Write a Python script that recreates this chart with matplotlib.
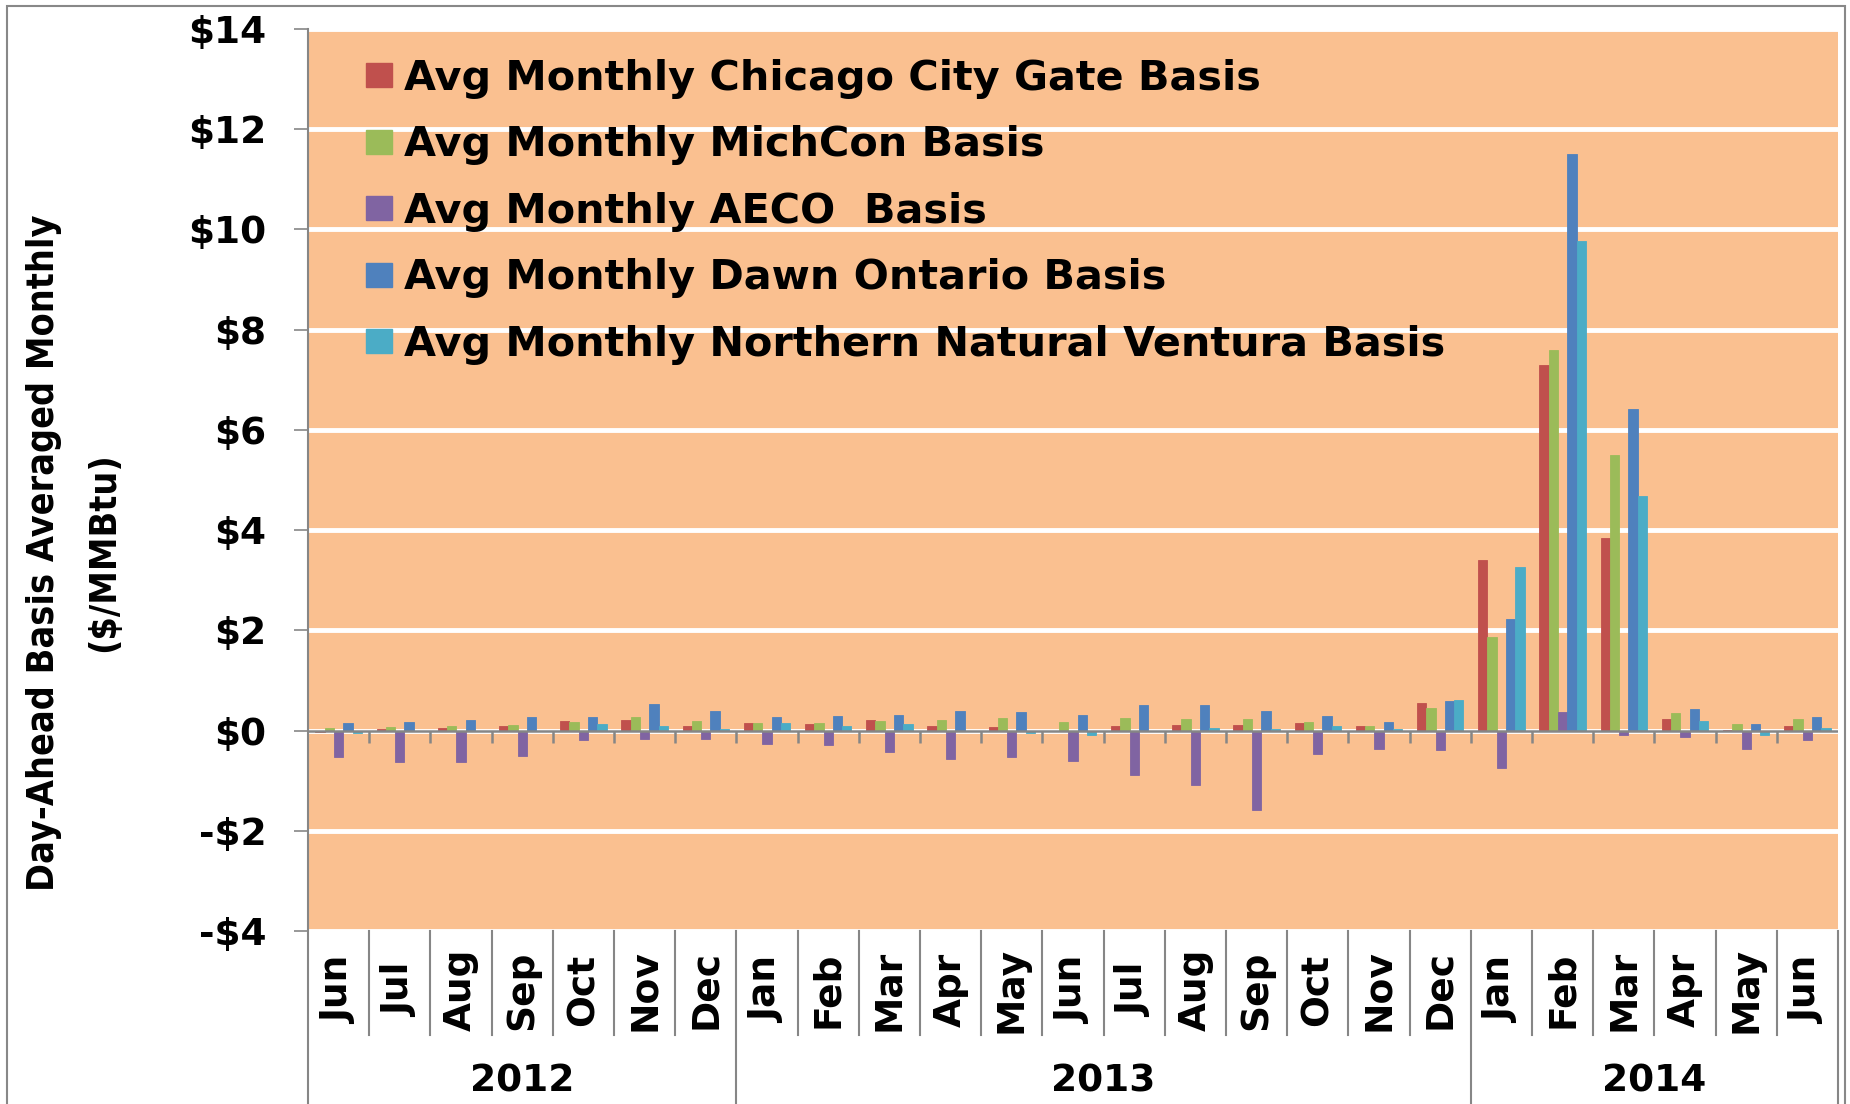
import numpy as np
import matplotlib
matplotlib.use('Agg')
import matplotlib.pyplot as plt
from matplotlib.patches import Patch, Rectangle
from matplotlib.lines import Line2D
import matplotlib.transforms as mtransforms

plt.rcParams['font.family'] = ['DejaVu Sans']
plt.rcParams['font.weight'] = 'bold'

# data
months = ['Jun', 'Jul', 'Aug', 'Sep', 'Oct', 'Nov', 'Dec',
          'Jan', 'Feb', 'Mar', 'Apr', 'May', 'Jun', 'Jul', 'Aug', 'Sep', 'Oct', 'Nov', 'Dec',
          'Jan', 'Feb', 'Mar', 'Apr', 'May', 'Jun']
years = ['2012', '2013', '2014']
year_counts = [7, 12, 6]

chicago = [-0.02, 0.03, 0.05, 0.10, 0.19, 0.21, 0.09, 0.15, 0.13, 0.21, 0.10, 0.07, 0.00,
           0.09, 0.12, 0.11, 0.15, 0.09, 0.55, 3.41, 7.29, 3.85, 0.23, 0.01, 0.10]
michcon = [0.06, 0.07, 0.09, 0.11, 0.17, 0.27, 0.19, 0.15, 0.15, 0.19, 0.21, 0.25, 0.17,
           0.25, 0.23, 0.23, 0.17, 0.09, 0.45, 1.87, 7.60, 5.49, 0.36, 0.14, 0.24]
aeco = [-0.53, -0.63, -0.63, -0.51, -0.19, -0.17, -0.17, -0.27, -0.29, -0.43, -0.57, -0.52, -0.61,
        -0.89, -1.09, -1.59, -0.47, -0.37, -0.38, -0.74, 0.38, -0.08, -0.13, -0.36, -0.18]
dawn = [0.15, 0.18, 0.21, 0.27, 0.28, 0.53, 0.40, 0.27, 0.29, 0.31, 0.39, 0.38, 0.31,
        0.51, 0.51, 0.39, 0.29, 0.17, 0.58, 2.22, 11.51, 6.41, 0.43, 0.14, 0.28]
ventura = [-0.04, 0.00, 0.00, 0.00, 0.13, 0.09, 0.03, 0.15, 0.09, 0.13, 0.00, -0.05, -0.09,
           0.00, 0.06, 0.04, 0.10, 0.04, 0.61, 3.27, 9.77, 4.69, 0.19, -0.08, 0.05]

series = [chicago, michcon, aeco, dawn, ventura]
labels = ['Avg Monthly Chicago City Gate Basis',
          'Avg Monthly MichCon Basis',
          'Avg Monthly AECO  Basis',
          'Avg Monthly Dawn Ontario Basis',
          'Avg Monthly Northern Natural Ventura Basis']
colors = ['#C0504D', '#9BBB59', '#8064A2', '#4F81BD', '#4BACC6']

yticks = [-4, -2, 0, 2, 4, 6, 8, 10, 12, 14]
ytick_labels = ['-\\$4', '-\\$2', '\\$0', '\\$2', '\\$4', '\\$6', '\\$8', '\\$10', '\\$12', '\\$14']

W, H = 1850, 1104
fig = plt.figure(figsize=(W / 100, H / 100), dpi=100)
left, right, top, bottom = 308, 1838, 29, 931
ax = fig.add_axes([left / W, 1 - bottom / H, (right - left) / W, (bottom - top) / H])

x = np.arange(len(months))
bw = 0.152
for i, (vals, lab, c) in enumerate(zip(series, labels, colors)):
    ax.bar(x + (i - 2) * bw, vals, width=bw, color=c, label=lab,
           edgecolor=c, linewidth=0.6, zorder=3)

ax.set_xlim(-0.5, len(months) - 0.5)
ax.set_ylim(-4, 14)
ax.set_facecolor('#FAC090')
ax.set_yticks(yticks)
ax.set_yticklabels(ytick_labels, fontsize=27, fontweight='bold')
ax.tick_params(axis='y', length=10, width=1.2, color='#868686', pad=20)
ax.set_xticks([])
ax.yaxis.grid(True, color='white', linewidth=3.5)
ax.set_axisbelow(True)
for s in ax.spines.values():
    s.set_visible(False)

# zero axis line with tick marks between months
ax.axhline(0, color='#868686', linewidth=1.8, zorder=4)
ax.vlines(x[1:] - 0.5, -0.24, 0, color='#868686', linewidth=1.8, zorder=4)

trans = mtransforms.blended_transform_factory(ax.transData, ax.transAxes)
# left axis line running down past the category labels
ax.add_line(Line2D([0, 0], [-0.2, 1], transform=ax.transAxes, color='#868686',
                   linewidth=1.5, clip_on=False))

# month labels and separators
for i, m in enumerate(months):
    ax.text(i, -0.0654, m, transform=trans, rotation=90, ha='center', va='center',
            fontsize=27, fontweight='bold')
year_edges = np.cumsum(year_counts) - 0.5
for k in range(1, len(months) + 1):
    b = k - 0.5
    ybot = -0.2 if b in year_edges else -0.1153
    ax.add_line(Line2D([b, b], [0, ybot], transform=trans, color='#868686',
                       linewidth=1.5, clip_on=False))

start = 0
for yr, n in zip(years, year_counts):
    ax.text(start + (n - 1) / 2, -0.167, yr, transform=trans, ha='center', va='center',
            fontsize=27, fontweight='bold')
    start += n

# y label
fig.text(44 / W, 1 - 553 / H, 'Day-Ahead Basis Averaged Monthly', rotation=90,
         ha='center', va='center', fontsize=27, fontweight='bold', fontstretch='condensed')
fig.text(104 / W, 1 - 552 / H, '(\\$/MMBtu)', rotation=90,
         ha='center', va='center', fontsize=27, fontweight='bold', fontstretch='condensed')

# legend
handles = [Patch(facecolor=c, edgecolor=c) for c in colors]
ax.legend(handles, labels, loc='upper left', bbox_to_anchor=(366 / W, 1 - 59 / H),
          bbox_transform=fig.transFigure, frameon=False, fontsize=29.8,
          handlelength=0.62, handleheight=0.52, handletextpad=0.3,
          labelspacing=0.64, borderpad=0, borderaxespad=0)

# outer chart border
fig.patches.append(Rectangle((7 / W, -0.02), (1845 - 7) / W, 1 - 6 / H + 0.02,
                             transform=fig.transFigure, fill=False,
                             edgecolor='#888888', linewidth=1.5))

fig.savefig('out.png', dpi=100)
